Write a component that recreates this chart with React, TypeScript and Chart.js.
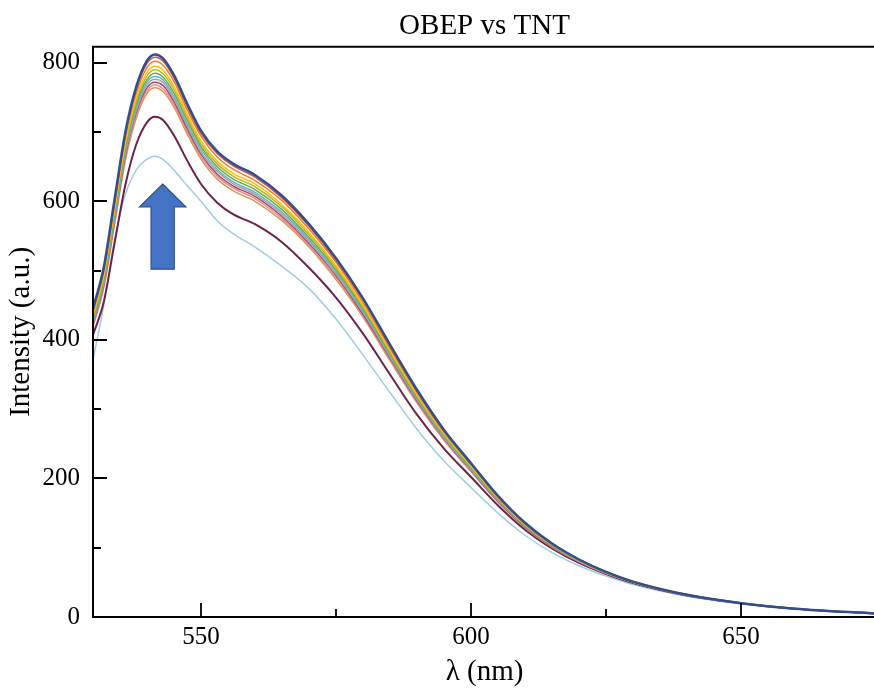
import React, { useEffect, useRef } from "react";
import { Chart, registerables } from "chart.js";

Chart.register(...registerables);

const chartTitle = "OBEP vs TNT";
const xTitle = "λ (nm)";
const yTitle = "Intensity (a.u.)";

const wavelengths = [530, 532, 534, 536, 538, 540, 541.5, 543, 545, 547.5, 550, 553, 556, 560, 565, 570, 575, 580, 585, 590, 595, 600, 605, 610, 615, 620, 625, 630, 640, 650, 660, 675];

const s1 = [445, 505, 603, 700, 765, 803, 812, 806, 782, 740, 702, 672, 654, 638, 608, 567, 518, 460, 393, 328, 270, 222, 175, 136, 106, 83, 65, 51, 32, 20, 12, 5];
const s2 = [443, 503, 600, 697, 761, 799, 808, 802, 778, 736, 698, 669, 651, 635, 605, 564, 515, 458, 391, 326, 269, 221, 174, 135, 106, 83, 65, 51, 32, 20, 12, 5];
const s3 = [440, 499, 596, 692, 756, 793, 802, 796, 773, 731, 694, 664, 646, 630, 601, 560, 512, 454, 388, 324, 267, 220, 173, 135, 105, 83, 65, 51, 32, 20, 12, 5];
const s4 = [436, 494, 590, 685, 749, 786, 795, 789, 766, 725, 687, 658, 640, 625, 595, 555, 507, 450, 385, 321, 265, 218, 172, 134, 105, 82, 65, 51, 32, 20, 12, 5];
const s5 = [433, 491, 587, 681, 744, 781, 790, 784, 761, 720, 683, 654, 636, 621, 592, 552, 504, 448, 382, 319, 263, 217, 171, 133, 104, 82, 64, 51, 32, 20, 12, 5];
const s6 = [430, 488, 583, 677, 740, 776, 785, 779, 756, 716, 679, 650, 632, 617, 588, 548, 501, 445, 380, 317, 262, 216, 170, 132, 104, 82, 64, 50, 32, 20, 12, 5];
const s7 = [428, 485, 579, 673, 735, 772, 780, 775, 751, 711, 675, 646, 628, 613, 584, 545, 498, 442, 378, 315, 260, 214, 169, 132, 103, 81, 64, 50, 32, 20, 12, 5];
const s8 = [425, 483, 576, 669, 731, 768, 776, 771, 748, 708, 671, 643, 625, 610, 581, 542, 495, 440, 376, 314, 259, 213, 168, 131, 103, 81, 64, 50, 32, 20, 12, 5];
const s9 = [423, 480, 573, 666, 728, 764, 772, 767, 744, 704, 668, 639, 622, 607, 578, 539, 493, 437, 374, 312, 258, 212, 167, 130, 102, 81, 64, 50, 32, 20, 12, 5];
const s10 = [421, 478, 570, 662, 724, 760, 768, 762, 740, 700, 664, 636, 619, 604, 575, 536, 490, 435, 372, 310, 256, 211, 167, 130, 102, 80, 63, 50, 32, 20, 12, 5];
const s11 = [419, 475, 567, 659, 720, 756, 764, 758, 736, 696, 661, 632, 615, 600, 572, 534, 487, 433, 370, 309, 255, 210, 166, 129, 101, 80, 63, 50, 31, 20, 12, 5];
const s12 = [407, 455, 540, 624, 682, 714, 722, 717, 695, 658, 625, 598, 581, 567, 541, 504, 461, 409, 350, 292, 243, 202, 161, 126, 99, 78, 62, 49, 31, 20, 12, 5];
const s13 = [371, 450, 545, 610, 645, 661, 665, 660, 645, 622, 600, 572, 553, 534, 506, 474, 430, 378, 324, 271, 225, 187, 150, 118, 93, 74, 59, 47, 30, 19, 12, 5];

const seriesValues = [s1, s2, s3, s4, s5, s6, s7, s8, s9, s10, s11, s12, s13];
const seriesColors = ["#2F4F8F", "#D0504A", "#ED7D31", "#FFC000", "#B5B536", "#6FA84A", "#5FB7C9", "#A5A5A5", "#A8477C", "#F08C84", "#D09A5A", "#6B2449", "#9FCBE6"];
const seriesWidths = [2.5, 1.5, 1.5, 1.5, 1.5, 1.5, 1.5, 1.5, 1.5, 1.5, 1.5, 2, 1.5];

const xMin = 530;
const xMax = 675;
const yMin = 0;
const yMax = 823;
const xTicks = [550, 600, 650];
const xMinorTicks = [575, 625, 675];
const yTicks = [0, 200, 400, 600, 800];
const yMinorTicks = [100, 300, 500, 700];

// arrow annotation (data units)
const arrowX = 542.9;
const arrowTip = 625;
const arrowHeadBase = 592;
const arrowBottom = 502;
const arrowHeadHalf = 4.3;
const arrowShaftHalf = 2.15;

const FONT = "'Liberation Serif', 'Times New Roman', serif";

const framePlugin = {
  id: "frame",
  afterDatasetsDraw(chart: any) {
    const { ctx, chartArea, scales } = chart;
    const xs = scales.x;
    const ys = scales.y;
    // arrow
    const cx = xs.getPixelForValue(arrowX);
    const hw = xs.getPixelForValue(arrowX + arrowHeadHalf) - cx;
    const sw = xs.getPixelForValue(arrowX + arrowShaftHalf) - cx;
    const tip = ys.getPixelForValue(arrowTip);
    const hb = ys.getPixelForValue(arrowHeadBase);
    const bot = ys.getPixelForValue(arrowBottom);
    ctx.save();
    ctx.beginPath();
    ctx.moveTo(cx, tip);
    ctx.lineTo(cx + hw, hb);
    ctx.lineTo(cx + sw, hb);
    ctx.lineTo(cx + sw, bot);
    ctx.lineTo(cx - sw, bot);
    ctx.lineTo(cx - sw, hb);
    ctx.lineTo(cx - hw, hb);
    ctx.closePath();
    ctx.fillStyle = "#4472C4";
    ctx.fill();
    ctx.strokeStyle = "#2F528F";
    ctx.lineWidth = 1.2;
    ctx.stroke();
    ctx.restore();

    ctx.save();
    ctx.strokeStyle = "#000";
    ctx.lineWidth = 2;
    const { left, right, top, bottom } = chartArea;
    ctx.beginPath();
    ctx.rect(left, top, right - left, bottom - top);
    ctx.stroke();
    ctx.lineWidth = 1.8;
    ctx.beginPath();
    for (const v of xTicks) {
      const p = Math.round(xs.getPixelForValue(v));
      ctx.moveTo(p, bottom);
      ctx.lineTo(p, bottom - 14);
    }
    for (const v of xMinorTicks) {
      const p = Math.round(xs.getPixelForValue(v));
      ctx.moveTo(p, bottom);
      ctx.lineTo(p, bottom - 8);
    }
    for (const v of yTicks) {
      const p = Math.round(ys.getPixelForValue(v));
      ctx.moveTo(left, p);
      ctx.lineTo(left + 14, p);
    }
    for (const v of yMinorTicks) {
      const p = Math.round(ys.getPixelForValue(v));
      ctx.moveTo(left, p);
      ctx.lineTo(left + 8, p);
    }
    ctx.stroke();
    ctx.restore();
  },
};

export default function App() {
  const ref = useRef<HTMLCanvasElement | null>(null);
  useEffect(() => {
    if (!ref.current) return;
    const datasets = seriesValues.map((vals, i) => ({
      label: "S" + (i + 1),
      data: wavelengths.map((w, j) => ({ x: w, y: vals[j] })),
      borderColor: seriesColors[i],
      backgroundColor: seriesColors[i],
      borderWidth: seriesWidths[i],
      pointRadius: 0,
      cubicInterpolationMode: "monotone" as const,
      fill: false,
    }));
    const chart = new Chart(ref.current, {
      type: "line",
      data: { datasets },
      plugins: [framePlugin],
      options: {
        animation: false,
        responsive: false,
        maintainAspectRatio: false,
        layout: { padding: { left: 0, right: 4, top: 0, bottom: 3 } },
        plugins: {
          legend: { display: false },
          tooltip: { enabled: false },
          title: {
            display: true,
            text: chartTitle,
            fullSize: false,
            color: "#000",
            font: { family: FONT, size: 29, weight: "normal" },
            padding: { top: 9, bottom: 3 },
          },
        },
        scales: {
          x: {
            type: "linear",
            min: xMin,
            max: xMax,
            grid: { display: false, drawTicks: false },
            border: { display: false },
            afterBuildTicks: (scale: any) => {
              scale.ticks = xTicks.map((v) => ({ value: v }));
            },
            afterFit: (scale: any) => {
              scale.height = 73;
            },
            ticks: {
              color: "#000",
              padding: 5,
              maxRotation: 0,
              font: { family: FONT, size: 25 },
              callback: (v: any) => String(v),
            },
            title: {
              display: true,
              text: xTitle,
              color: "#000",
              font: { family: FONT, size: 29 },
              padding: { top: 0, bottom: 0 },
            },
          },
          y: {
            type: "linear",
            min: yMin,
            max: yMax,
            grid: { display: false, drawTicks: false },
            border: { display: false },
            afterBuildTicks: (scale: any) => {
              scale.ticks = yTicks.map((v) => ({ value: v }));
            },
            afterFit: (scale: any) => {
              scale.width = 93;
            },
            ticks: {
              color: "#000",
              padding: 13,
              font: { family: FONT, size: 25 },
              callback: (v: any) => String(v),
            },
            title: {
              display: true,
              text: yTitle,
              color: "#000",
              font: { family: FONT, size: 29 },
              padding: { top: 4, bottom: 0 },
            },
          },
        },
      },
    });
    return () => chart.destroy();
  }, []);
  return (
    <div style={{ position: "absolute", left: 0, top: 0, width: 874, height: 693, overflow: "hidden", background: "#fff" }}>
      <canvas ref={ref} width={880} height={693} style={{ display: "block", width: 880, height: 693 }} />
    </div>
  );
}
